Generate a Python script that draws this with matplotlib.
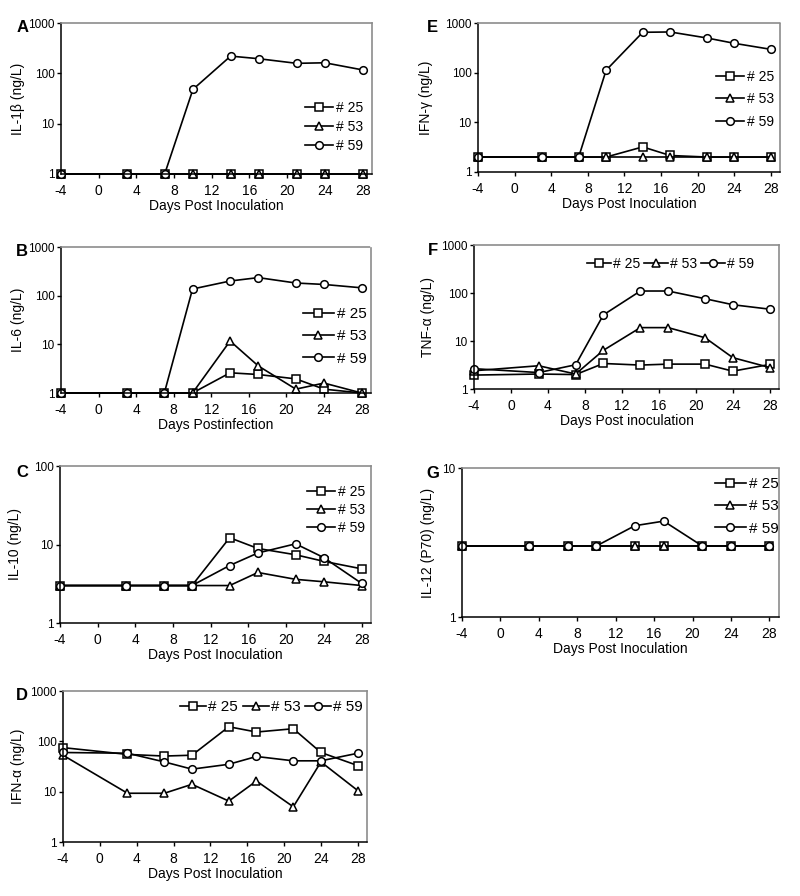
import matplotlib
matplotlib.use("Agg")
import matplotlib.pyplot as plt
from matplotlib.ticker import FixedLocator, FixedFormatter, NullLocator

plt.rcParams['font.family'] = ['Liberation Sans Narrow', 'Liberation Sans', 'DejaVu Sans']
plt.rcParams['axes.unicode_minus'] = False

days = [-4, 3, 7, 10, 14, 17, 21, 24, 28]
names = ["# 25", "# 53", "# 59"]

il1b_25 = [1, 1, 1, 1, 1, 1, 1, 1, 1]
il1b_53 = [1, 1, 1, 1, 1, 1, 1, 1, 1]
il1b_59 = [1, 1, 1, 48, 220, 195, 158, 162, 117]

ifng_25 = [2, 2, 2, 2, 3.2, 2.15, 2, 2, 2]
ifng_53 = [2, 2, 2, 2, 2, 2, 2, 2, 2]
ifng_59 = [2, 2, 2, 112, 650, 660, 500, 390, 295]

il6_25 = [1, 1, 1, 1, 2.6, 2.4, 1.95, 1.2, 1]
il6_53 = [1, 1, 1, 1, 11.7, 3.6, 1.2, 1.6, 1]
il6_59 = [1, 1, 1, 137, 200, 235, 182, 170, 145]

tnfa_25 = [1.95, 2.05, 2.0, 3.4, 3.15, 3.3, 3.3, 2.35, 3.25]
tnfa_53 = [2.4, 3.05, 2.05, 6.4, 19, 19, 11.7, 4.5, 2.8]
tnfa_59 = [2.65, 2.2, 3.2, 35, 110, 110, 76, 57, 46]

il10_25 = [3, 3, 3, 3, 12.2, 8.9, 7.4, 6.1, 4.9]
il10_53 = [3, 3, 3, 3, 3, 4.4, 3.6, 3.35, 3]
il10_59 = [3, 3, 3, 3, 5.4, 7.8, 10.2, 6.8, 3.2]

il12_25 = [3, 3, 3, 3, 3, 3, 3, 3, 3]
il12_53 = [3, 3, 3, 3, 3, 3, 3, 3, 3]
il12_59 = [3, 3, 3, 3, 4.1, 4.4, 3, 3, 3]

ifna_25 = [75, 55, 51, 53, 195, 153, 178, 60, 33]
ifna_53 = [53, 9.3, 9.3, 14, 6.5, 16.3, 5.0, 39, 10.5]
ifna_59 = [60, 58, 39, 28, 35, 50, 41, 41, 58]

W, H = 800, 896
fig = plt.figure(figsize=(8, 8.96), dpi=100)

markers = ['s', '^', 'o']


def panel(box, letter, letter_xy, ylab_x, series, ylabel, xlabel, ymax,
          leg_xy, ncol, leg_fs, leg_sp):
    l, t, r, b = box
    ax = fig.add_axes([l / W, 1 - b / H, (r - l) / W, (b - t) / H])
    for vals, m, name in zip(series, markers, names):
        ax.plot(days, vals, color='black', lw=1.2, marker=m, markersize=5.5,
                markerfacecolor='white', markeredgecolor='black',
                markeredgewidth=1.1, label=name, clip_on=False)
    ax.set_yscale('log')
    ax.set_ylim(1, ymax)
    ax.set_xlim(-4, 29)
    ax.set_xticks(range(-4, 29, 4))
    decades = [10 ** k for k in range(0, 4) if 10 ** k <= ymax]
    ax.yaxis.set_major_locator(FixedLocator(decades))
    ax.yaxis.set_major_formatter(FixedFormatter([str(d) for d in decades]))
    ax.yaxis.set_minor_locator(NullLocator())
    ax.tick_params(axis='x', labelsize=10, length=3, width=1, pad=4)
    ax.tick_params(axis='y', labelsize=8.5, length=3, width=1, pad=1.5)
    for s in ['top', 'right']:
        ax.spines[s].set_color('#8c8c8c')
        ax.spines[s].set_linestyle((0, (1, 1)))
        ax.spines[s].set_linewidth(1.2)
    for s in ['left', 'bottom']:
        ax.spines[s].set_linewidth(1.1)
    ax.set_ylabel(ylabel, fontsize=10)
    ax.yaxis.set_label_coords((ylab_x - l) / (r - l), 0.5)
    ax.set_xlabel(xlabel, fontsize=10, labelpad=1)
    fig.text(letter_xy[0] / W, 1 - letter_xy[1] / H, letter, fontsize=12,
             fontweight='bold', ha='right', va='center')
    if ncol == 1:
        hl, hp, cs = 2.0, 0.25, 0.6
    else:
        hl, hp, cs = 1.7, 0.15, 0.3
    ax.legend(loc='upper left',
              bbox_to_anchor=((leg_xy[0] - l) / (r - l), (b - leg_xy[1]) / (b - t)),
              ncol=ncol, frameon=False, fontsize=leg_fs, handlelength=hl,
              handletextpad=hp, columnspacing=cs, labelspacing=leg_sp,
              borderaxespad=0, borderpad=0, markerscale=1.0)
    return ax


panel((61, 23, 372, 174), "A", (29, 28), 25, [il1b_25, il1b_53, il1b_59],
      "IL-1\u03b2 (ng/L)", "Days Post Inoculation", 1000,
      (305, 101), 1, 10, 0.35)
panel((478, 23, 780, 172), "E", (438, 27), 433, [ifng_25, ifng_53, ifng_59],
      "IFN-\u03b3 (ng/L)", "Days Post Inoculation", 1000,
      (716, 70), 1, 10, 0.6)
panel((61, 247, 371, 393), "B", (28, 252), 25, [il6_25, il6_53, il6_59],
      "IL-6 (ng/L)", "Days Postinfection", 1000,
      (303, 307), 1, 11, 0.55)
panel((474, 245, 779, 389), "F", (438, 250), 435, [tnfa_25, tnfa_53, tnfa_59],
      "TNF-\u03b1 (ng/L)", "Days Post inoculation", 1000,
      (587, 257), 3, 10, 0.5)
panel((60, 466, 371, 623), "C", (28, 472), 22, [il10_25, il10_53, il10_59],
      "IL-10 (ng/L)", "Days Post Inoculation", 100,
      (307, 485), 1, 10, 0.3)
panel((462, 468, 779, 617), "G", (439, 473), 435, [il12_25, il12_53, il12_59],
      "IL-12 (P70) (ng/L)", "Days Post Inoculation", 10,
      (715, 477), 1, 11, 0.55)
panel((63, 691, 367, 842), "D", (28, 695), 25, [ifna_25, ifna_53, ifna_59],
      "IFN-\u03b1 (ng/L)", "Days Post Inoculation", 1000,
      (180, 700), 3, 11, 0.5)

fig.savefig("out.png", dpi=100, facecolor='white')
